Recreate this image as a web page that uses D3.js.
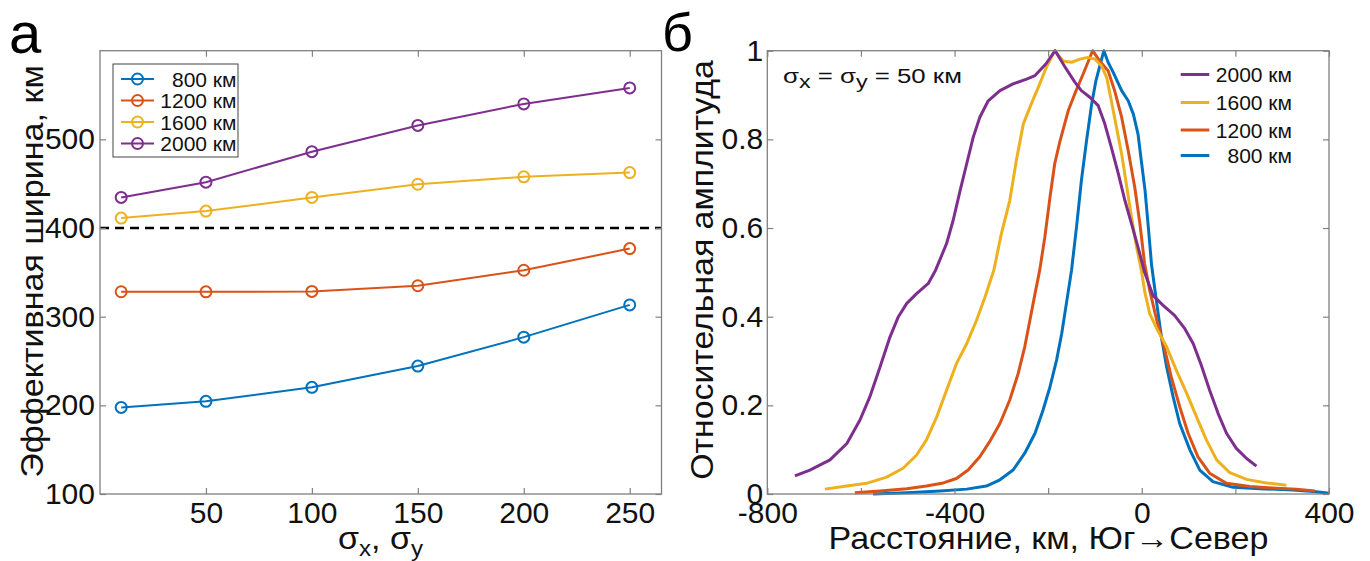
<!DOCTYPE html>
<html>
<head>
<meta charset="utf-8">
<script src="https://cdn.jsdelivr.net/npm/d3@7"></script>
<style>
  html, body { margin: 0; padding: 0; background: #fff; }
  svg { display: block; font-family: "Liberation Sans", Arial, sans-serif; }
</style>
</head>
<body>
<svg id="fig" width="1370" height="561"></svg>
<script>
// ---- Panel а: effective width vs. smoothing scale ----
const sigmaVals = [10, 50, 100, 150, 200, 250];
const width800  = [197.7, 204.5, 220.3, 244.3, 276.9, 313.3];
const width1200 = [328.1, 328.0, 328.5, 334.9, 352.4, 376.8];
const width1600 = [411.2, 419.1, 434.5, 449.4, 457.7, 462.5];
const width2000 = [434.5, 451.7, 486.1, 515.7, 540.0, 558.0];
const leftSeriesNames = ["800 км", "1200 км", "1600 км", "2000 км"];
const leftXTicks = [50, 100, 150, 200, 250];
const leftYTicks = [100, 200, 300, 400, 500];
const thresholdWidth = 400;

// ---- Panel б: normalised amplitude profiles, sigma = 50 km ----
const dist2000 = [-741,-709,-666,-630,-602,-581,-559,-538,-520,-502,-481,-456,-440,-417,-403,-388,-374,-360,-346,-328,-303,-275,-246,-228,-205,-185,-165,-143,-129,-111,-93,-79,-65,-50,-36,-22,-8,6,24,45,70,92,110,127,145,163,181,202,224,245];
const amp2000  = [0.041,0.054,0.077,0.114,0.167,0.219,0.287,0.354,0.400,0.430,0.452,0.475,0.506,0.565,0.617,0.685,0.745,0.805,0.850,0.887,0.910,0.925,0.936,0.944,0.970,1.0,0.965,0.929,0.910,0.895,0.876,0.835,0.782,0.722,0.662,0.610,0.557,0.500,0.448,0.426,0.403,0.373,0.339,0.291,0.234,0.182,0.137,0.103,0.080,0.063];

const dist1600 = [-677,-630,-588,-545,-510,-481,-460,-438,-417,-396,-374,-353,-335,-316,-300,-282,-268,-253,-236,-218,-204,-186,-168,-150,-132,-115,-100,-86,-75,-65,-54,-43,-33,-22,-11,-1,7,17,32,53,74,96,117,138,160,188,224,266,309];
const amp1600  = [0.011,0.018,0.024,0.038,0.058,0.088,0.122,0.174,0.234,0.294,0.339,0.392,0.444,0.505,0.587,0.662,0.752,0.835,0.880,0.925,0.962,1.0,0.977,0.974,0.981,0.985,0.981,0.966,0.940,0.887,0.827,0.767,0.700,0.625,0.557,0.505,0.453,0.407,0.373,0.332,0.279,0.227,0.174,0.122,0.077,0.048,0.033,0.025,0.020];

const dist1200 = [-613,-559,-502,-460,-424,-396,-371,-346,-325,-303,-282,-264,-250,-239,-228,-218,-207,-196,-186,-175,-157,-143,-125,-105,-90,-72,-58,-43,-29,-15,-4,6,17,32,46,63,81,99,120,145,181,231,288,330,370];
const amp1200  = [0.003,0.007,0.012,0.018,0.025,0.035,0.054,0.084,0.118,0.159,0.212,0.272,0.332,0.392,0.452,0.505,0.580,0.670,0.745,0.795,0.865,0.903,0.948,1.0,0.977,0.955,0.910,0.850,0.775,0.692,0.610,0.520,0.459,0.392,0.339,0.264,0.197,0.137,0.084,0.047,0.024,0.017,0.013,0.011,0.007];

const dist800 = [-574,-502,-431,-374,-332,-303,-275,-250,-228,-211,-196,-182,-171,-161,-150,-139,-129,-118,-107,-98,-81,-72,-61,-43,-29,-18,-8,-1,7,14,21,32,42,53,67,81,103,124,152,195,252,323,373,400];
const amp800  = [0.0,0.003,0.007,0.011,0.018,0.032,0.054,0.092,0.137,0.189,0.242,0.302,0.362,0.430,0.505,0.606,0.707,0.797,0.880,0.932,1.0,0.974,0.951,0.910,0.887,0.857,0.812,0.752,0.685,0.602,0.516,0.430,0.354,0.287,0.219,0.159,0.099,0.054,0.028,0.015,0.012,0.009,0.005,0.0015];

const rightSeriesNames = ["2000 км", "1600 км", "1200 км", "800 км"];
const rightXTicks = [-800, -600, -400, -200, 0, 200, 400];
const rightXLabelled = [-800, -400, 0, 400];
const rightYTicks = [0, 0.2, 0.4, 0.6, 0.8, 1];

const colors = { c800: "#0072BD", c1200: "#D95319", c1600: "#EDB120", c2000: "#7E2F8E" };
const axisColor = "#808080";
const textColor = "#111";
const tickFont = 30;

const svg = d3.select("#fig");

// ---------- helpers ----------
function drawBox(g, x0, x1, y0, y1) {
  g.append("rect")
    .attr("x", x0).attr("y", y1)
    .attr("width", x1 - x0).attr("height", y0 - y1)
    .attr("fill", "none").attr("stroke", axisColor).attr("stroke-width", 1.3);
}
function styleAxis(sel) {
  sel.select(".domain").remove();
  sel.selectAll(".tick line").attr("stroke", axisColor).attr("stroke-width", 1.2);
  sel.selectAll(".tick text").attr("fill", textColor).attr("font-size", tickFont)
    .attr("font-family", "Liberation Sans, Arial, sans-serif");
}
// widen a title along its reading direction so it spans a given length
function spanText(sel, baseTransform, length) {
  const w = sel.node().getBBox().width;
  sel.attr("transform", `${baseTransform} scale(${length / w},1)`);
}

// =============== Panel а ===============
const xA = d3.scaleLinear().domain([0, 265]).range([100, 661.5]);
const yA = d3.scaleLinear().domain([100, 600]).range([494, 50.7]);
const gA = svg.append("g");

// threshold line
gA.append("line")
  .attr("x1", xA(0)).attr("x2", xA(265))
  .attr("y1", yA(thresholdWidth)).attr("y2", yA(thresholdWidth))
  .attr("stroke", "#000").attr("stroke-width", 2.4).attr("stroke-dasharray", "9,6");

const seriesA = [
  { vals: width800,  color: colors.c800 },
  { vals: width1200, color: colors.c1200 },
  { vals: width1600, color: colors.c1600 },
  { vals: width2000, color: colors.c2000 }
];
const lineA = d3.line().x(d => xA(d[0])).y(d => yA(d[1]));
seriesA.forEach(s => {
  const pts = sigmaVals.map((v, i) => [v, s.vals[i]]);
  gA.append("path").attr("d", lineA(pts)).attr("fill", "none")
    .attr("stroke", s.color).attr("stroke-width", 2);
  gA.selectAll(null).data(pts).enter().append("circle")
    .attr("cx", d => xA(d[0])).attr("cy", d => yA(d[1])).attr("r", 5.5)
    .attr("fill", "none").attr("stroke", s.color).attr("stroke-width", 2);
});

gA.append("g").attr("transform", `translate(0,${yA(100)})`)
  .call(d3.axisBottom(xA).tickValues(leftXTicks).tickSize(-6).tickSizeOuter(0).tickPadding(7.5))
  .call(styleAxis);
gA.append("g").attr("transform", `translate(0,${yA(600)})`)
  .call(d3.axisTop(xA).tickValues(leftXTicks).tickSize(-6).tickSizeOuter(0).tickFormat(""))
  .call(styleAxis);
gA.append("g").attr("transform", `translate(${xA(0)},0)`)
  .call(d3.axisLeft(yA).tickValues(leftYTicks).tickSize(-6).tickSizeOuter(0).tickPadding(5))
  .call(styleAxis);
gA.append("g").attr("transform", `translate(${xA(265)},0)`)
  .call(d3.axisRight(yA).tickValues(leftYTicks).tickSize(-6).tickSizeOuter(0).tickFormat(""))
  .call(styleAxis);
drawBox(gA, xA(0), xA(265), yA(100), yA(600));

// legend а
const legA = gA.append("g");
legA.append("rect").attr("x", 113).attr("y", 64).attr("width", 125).attr("height", 93)
  .attr("fill", "#fff").attr("stroke", "#444").attr("stroke-width", 1);
seriesA.forEach((s, i) => {
  const y = 79 + i * 21.5;
  legA.append("line").attr("x1", 121).attr("x2", 154).attr("y1", y).attr("y2", y)
    .attr("stroke", s.color).attr("stroke-width", 2);
  legA.append("circle").attr("cx", 137.5).attr("cy", y).attr("r", 5.5)
    .attr("fill", "none").attr("stroke", s.color).attr("stroke-width", 2);
  legA.append("text").attr("x", 236.5).attr("y", y).attr("dy", "0.36em")
    .attr("text-anchor", "end").attr("font-size", 21).attr("fill", textColor)
    .text(leftSeriesNames[i]);
});

// titles а
const ytA = gA.append("text").attr("text-anchor", "middle").attr("font-size", 32)
  .attr("fill", textColor).text("Эффективная ширина, км");
spanText(ytA, `translate(43,271.5) rotate(-90)`, 413);

const xtA = gA.append("text").attr("text-anchor", "middle").attr("font-size", 31).attr("fill", textColor);
xtA.append("tspan").text("σ");
xtA.append("tspan").attr("font-size", 22).attr("dy", 7).text("x");
xtA.append("tspan").attr("dy", -7).text(", σ");
xtA.append("tspan").attr("font-size", 22).attr("dy", 7).text("y");
spanText(xtA, `translate(380.5,549)`, 85);

svg.append("text").attr("x", 9).attr("y", 53).attr("font-size", 58).attr("fill", "#000").text("а");

// =============== Panel б ===============
const xB = d3.scaleLinear().domain([-800, 400]).range([767.3, 1329]);
const yB = d3.scaleLinear().domain([0, 1]).range([494, 50.7]);
const gB = svg.append("g");

const seriesB = [
  { d: dist2000, a: amp2000, color: colors.c2000 },
  { d: dist1600, a: amp1600, color: colors.c1600 },
  { d: dist1200, a: amp1200, color: colors.c1200 },
  { d: dist800,  a: amp800,  color: colors.c800 }
];
const lineB = d3.line().x(d => xB(d[0])).y(d => yB(d[1]));
// 800 km drawn first so the wider profiles sit on top
[3, 2, 1, 0].forEach(k => {
  const s = seriesB[k];
  const pts = s.d.map((v, i) => [v, s.a[i]]);
  gB.append("path").attr("d", lineB(pts)).attr("fill", "none")
    .attr("stroke", s.color).attr("stroke-width", 3).attr("stroke-linejoin", "round");
});

gB.append("g").attr("transform", `translate(0,${yB(0)})`)
  .call(d3.axisBottom(xB).tickValues(rightXTicks).tickSize(-6).tickSizeOuter(0).tickPadding(7.5)
    .tickFormat(d => rightXLabelled.includes(d) ? String(d) : ""))
  .call(styleAxis);
gB.append("g").attr("transform", `translate(0,${yB(1)})`)
  .call(d3.axisTop(xB).tickValues(rightXTicks).tickSize(-6).tickSizeOuter(0).tickFormat(""))
  .call(styleAxis);
gB.append("g").attr("transform", `translate(${xB(-800)},0)`)
  .call(d3.axisLeft(yB).tickValues(rightYTicks).tickSize(-6).tickSizeOuter(0).tickPadding(4)
    .tickFormat(d => (d === 0 || d === 1) ? String(d) : d.toFixed(1)))
  .call(styleAxis);
gB.append("g").attr("transform", `translate(${xB(400)},0)`)
  .call(d3.axisRight(yB).tickValues(rightYTicks).tickSize(-6).tickSizeOuter(0).tickFormat(""))
  .call(styleAxis);
drawBox(gB, xB(-800), xB(400), yB(0), yB(1));

// legend б
seriesB.forEach((s, i) => {
  const y = [74.5, 102.5, 130, 155.5][i];
  gB.append("line").attr("x1", 1180.7).attr("x2", 1209.3).attr("y1", y).attr("y2", y)
    .attr("stroke", s.color).attr("stroke-width", 3);
  gB.append("text").attr("x", 1292).attr("y", y).attr("dy", "0.36em")
    .attr("text-anchor", "end").attr("font-size", 21).attr("fill", textColor)
    .text(rightSeriesNames[i]);
});

// annotation
const ann = gB.append("text").attr("font-size", 21).attr("fill", textColor);
ann.append("tspan").text("σ");
ann.append("tspan").attr("font-size", 19).attr("dy", 5).text("x");
ann.append("tspan").attr("dy", -5).text(" = σ");
ann.append("tspan").attr("font-size", 19).attr("dy", 5).text("y");
ann.append("tspan").attr("dy", -5).text(" = 50 км");
spanText(ann, `translate(783,83)`, 179);

// titles б
const ytB = gB.append("text").attr("text-anchor", "middle").attr("font-size", 32)
  .attr("fill", textColor).text("Относительная амплитуда");
spanText(ytB, `translate(713,270) rotate(-90)`, 420);

const xtB = gB.append("text").attr("text-anchor", "middle").attr("font-size", 31)
  .attr("fill", textColor).text("Расстояние, км, Юг→Север");
spanText(xtB, `translate(1048.5,549)`, 440);

svg.append("text").attr("x", 662).attr("y", 51).attr("font-size", 54).attr("fill", "#000").text("б");
</script>
</body>
</html>
